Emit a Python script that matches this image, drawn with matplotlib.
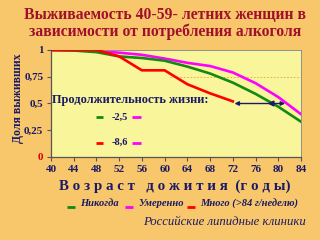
import matplotlib
matplotlib.use("Agg")
import matplotlib.pyplot as plt

ages = [40, 44, 48, 52, 56, 60, 64, 68, 72, 76, 80, 84]
never = [1.0, 0.995, 0.98, 0.94, 0.925, 0.90, 0.845, 0.78, 0.695, 0.59, 0.47, 0.33]
moderate = [1.0, 0.997, 0.99, 0.975, 0.955, 0.92, 0.88, 0.85, 0.79, 0.69, 0.56, 0.40]
heavy_ages = [40, 48, 52, 56, 60, 64, 68, 72]
heavy = [1.0, 1.0, 0.94, 0.81, 0.81, 0.68, 0.595, 0.52]
ytick_vals = [0, 0.25, 0.5, 0.75, 1]
ytick_labels = ["0", "0,25", "0,5", "0,75", "1"]
title = "Выживаемость 40-59- летних женщин в\nзависимости от потребления алкоголя"
ylabel = "Доля выживших"
xlabel = "В о з р а с т   д о ж и т и я  (г о д ы)"
legend_names = ["Никогда", "Умеренно", "Много (>84 г/неделю)"]
life_title = "Продолжительность жизни:"
life_vals = ["-2,5", "-8,6"]
footer = "Российские липидные клиники"
arrow_start, arrow_end, arrow_mid = 72.3, 81.2, 78.8

BG = "#F9C76B"
PLOT = "#F8F59A"
NAVY = "#1A1A66"
GREEN = "#128A12"
MAG = "#FF00FF"
RED = "#FF0000"
SERIF = ["Liberation Serif", "DejaVu Serif"]

fig = plt.figure(figsize=(3.2, 2.4), dpi=100, facecolor=BG)
ax = fig.add_axes([51 / 320, 1 - 157 / 240, 250 / 320, 107 / 240])
ax.set_facecolor(PLOT)

ax.plot([61, 84], [0.75, 0.75], color="#F0A040", lw=0.6, ls=(0, (2, 2)), zorder=1)
ax.plot(ages, never, color=GREEN, lw=1.9, zorder=3)
ax.plot(ages, moderate, color=MAG, lw=1.9, zorder=2)
ax.plot(heavy_ages, heavy, color=RED, lw=1.9, zorder=4)

ax.annotate("", xy=(arrow_start, 0.5), xytext=(arrow_end, 0.5),
            arrowprops=dict(arrowstyle="<|-|>", color=NAVY, lw=1.0,
                            mutation_scale=6, shrinkA=0, shrinkB=0), zorder=5)
ax.plot([arrow_mid], [0.5], marker="<", color=NAVY, ms=3.5, zorder=6)

ax.set_xlim(40, 84)
ax.set_ylim(0, 1)
ax.set_xticks(ages)
ax.set_xticklabels([str(a) for a in ages], fontfamily=SERIF, fontweight="bold",
                   fontsize=8, color=NAVY)
ax.set_yticks(ytick_vals)
ax.set_yticklabels(ytick_labels, fontfamily=SERIF, fontweight="bold",
                   fontsize=8, color=NAVY)
ax.get_yticklabels()[0].set_color("#E00000")
ax.tick_params(axis="both", direction="out", length=3, width=0.8, color="#555555", pad=2.5)
for s in ["left", "bottom"]:
    ax.spines[s].set_color("#555555")
    ax.spines[s].set_linewidth(0.9)
for s in ["top", "right"]:
    ax.spines[s].set_color("#909090")
    ax.spines[s].set_linewidth(0.7)

# life expectancy inset text
ax.text(40.2, 0.53, life_title, fontfamily=SERIF, fontweight="bold", fontsize=8.9,
        color=NAVY, ha="left", va="center", zorder=6)
for yv, col, lab in [(0.37, GREEN, life_vals[0]), (0.135, RED, life_vals[1])]:
    ax.plot([47.9, 49.2], [yv, yv], color=col, lw=2.0, solid_capstyle="butt")
    ax.text(50.6, yv, lab, fontfamily=SERIF, fontweight="bold", fontsize=7.5,
            color=NAVY, ha="left", va="center")
    ax.plot([54.3, 55.8], [yv, yv], color=MAG, lw=2.0, solid_capstyle="butt")

fig.text(165 / 320, 1 - 23.5 / 240, title, fontfamily=SERIF, fontweight="bold",
         fontsize=11.3, color="#A0102C", ha="center", va="center", linespacing=0.97)
fig.text(18 / 320, 1 - 98 / 240, ylabel, fontfamily=SERIF, fontweight="bold",
         fontsize=8.5, color=NAVY, ha="center", va="center", rotation=90)
fig.text(175 / 320, 1 - 186 / 240, xlabel, fontfamily=SERIF, fontweight="bold",
         fontsize=10.8, color=NAVY, ha="center", va="center")

# bottom legend
leg_items = [(67, GREEN, 80, legend_names[0]), (125, MAG, 138, legend_names[1]),
             (187, RED, 200, legend_names[2])]
ly = 1 - 204 / 240
for x0, col, tx, name in leg_items:
    fig.add_artist(plt.Line2D([x0 / 320, (x0 + 8) / 320], [ly - 0.012, ly - 0.012],
                              color=col, lw=2.0, solid_capstyle="butt"))
    fig.text(tx / 320, ly, name, fontfamily=SERIF, fontweight="bold", fontstyle="italic",
             fontsize=7.6, color=NAVY, ha="left", va="center")

fig.text(306 / 320, 1 - 222 / 240, footer, fontfamily=SERIF, fontstyle="italic",
         fontsize=9.2, color=NAVY, ha="right", va="center")

fig.savefig("out.png", dpi=100, facecolor=BG)
